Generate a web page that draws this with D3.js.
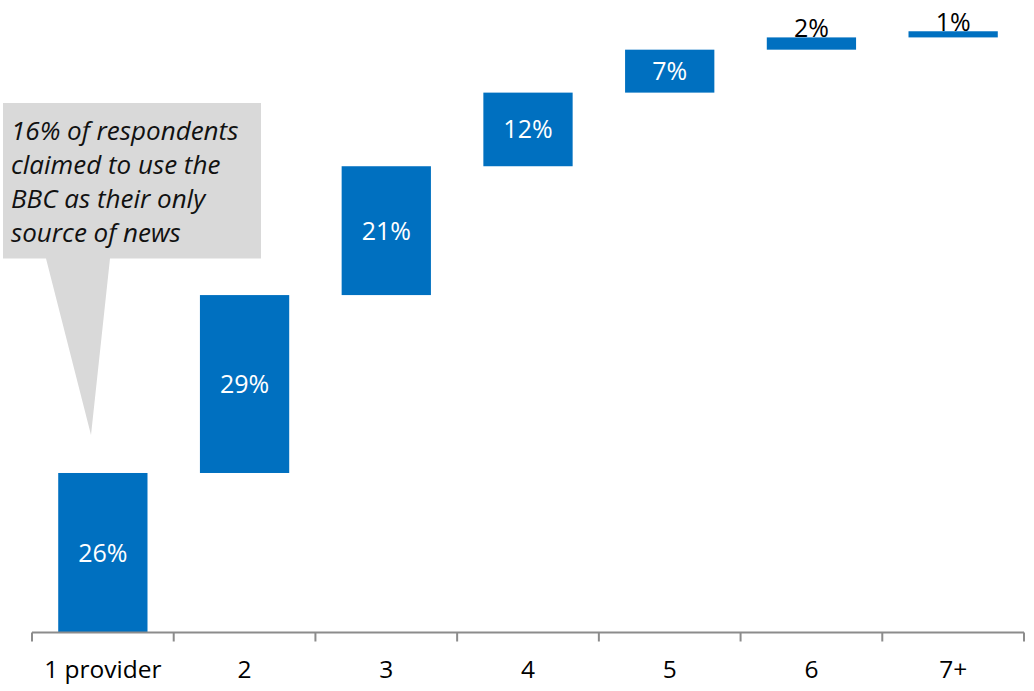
<!DOCTYPE html>
<html>
<head>
<meta charset="utf-8">
<script src="https://cdn.jsdelivr.net/npm/d3@7"></script>
<style>
  html, body { margin: 0; padding: 0; background: #fff; }
  svg { display: block; }
  text { font-family: "Open Sans", Lato, sans-serif; }
</style>
</head>
<body>
<svg id="chart" width="1034" height="691"></svg>
<script>
// Number of news providers used (waterfall: each step stacks on the previous total)
const categories = ["1 provider", "2", "3", "4", "5", "6", "7+"];
const shares = [26, 29, 21, 12, 7, 2, 1];
const valueLabels = ["26%", "29%", "21%", "12%", "7%", "2%", "1%"];
const calloutLines = [
  "16% of respondents",
  "claimed to use the",
  "BBC as their only",
  "source of news"
];

const svg = d3.select("#chart");
const baseY = 632.5;

const x = d3.scaleBand()
  .domain(categories)
  .range([32, 1024])
  .paddingInner(0.37)
  .paddingOuter(0.185);

const y = d3.scaleLinear()
  .domain([0, 100])
  .range([baseY, 19]);

// cumulative start/end of each step
let running = 0;
const steps = categories.map((c, i) => {
  const start = running;
  running += shares[i];
  return { cat: c, value: shares[i], label: valueLabels[i], start, end: running };
});

// Callout box with pointer
const callout = svg.append("g").attr("class", "callout");
callout.append("path")
  .attr("d", "M3,103 L261,103 L261,258.5 L110,258.5 L91,435 L46,258.5 L3,258.5 Z")
  .attr("fill", "#d9d9d9");
callout.selectAll("text")
  .data(calloutLines)
  .join("text")
  .attr("x", 11)
  .attr("y", (d, i) => 139.5 + i * 34.1)
  .attr("font-size", 26)
  .attr("font-style", "italic")
  .attr("fill", "#111")
  .text(d => d);

// Bars
svg.append("g").selectAll("rect")
  .data(steps)
  .join("rect")
  .attr("x", d => x(d.cat))
  .attr("width", x.bandwidth())
  .attr("y", d => y(d.end))
  .attr("height", d => y(d.start) - y(d.end))
  .attr("fill", "#0070c0");

// Value labels: inside (white) for tall bars, above (black) for thin ones
const isTall = d => (y(d.start) - y(d.end)) > 30;
svg.append("g").selectAll("text")
  .data(steps)
  .join("text")
  .attr("x", d => x(d.cat) + x.bandwidth() / 2)
  .attr("y", d => isTall(d) ? (y(d.start) + y(d.end)) / 2 : y(d.end) - 0.5)
  .attr("dy", d => isTall(d) ? "0.36em" : "0")
  .attr("text-anchor", "middle")
  .attr("font-size", 25)
  .attr("fill", d => isTall(d) ? "#ffffff" : "#000000")
  .text(d => d.label);

// Category axis
const axis = svg.append("g").attr("transform", `translate(0,${baseY})`);
axis.append("line")
  .attr("x1", 32).attr("x2", 1024)
  .attr("stroke", "#8c8c8c").attr("stroke-width", 2);
const tickXs = categories.map(c => x(c) - x.step() * x.paddingInner() / 2)
  .concat([1024]);
tickXs[0] = 32;
axis.selectAll("line.tick")
  .data(tickXs)
  .join("line")
  .attr("class", "tick")
  .attr("x1", d => d).attr("x2", d => d)
  .attr("y1", 0).attr("y2", 9)
  .attr("stroke", "#8c8c8c").attr("stroke-width", 2);
axis.selectAll("text")
  .data(categories)
  .join("text")
  .attr("x", d => x(d) + x.bandwidth() / 2)
  .attr("y", 45.5)
  .attr("text-anchor", "middle")
  .attr("font-size", 24.5)
  .attr("fill", "#000")
  .text(d => d);
</script>
</body>
</html>
